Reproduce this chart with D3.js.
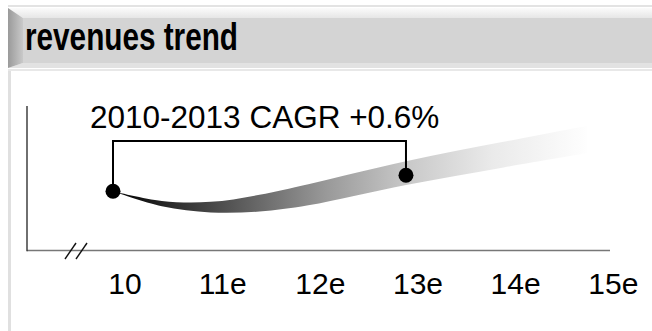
<!DOCTYPE html>
<html>
<head>
<meta charset="utf-8">
<script src="https://cdn.jsdelivr.net/npm/d3@7"></script>
<style>
  html, body { margin: 0; padding: 0; background: #fff; }
  svg { display: block; }
  text { font-family: "Liberation Sans", Arial, Helvetica, sans-serif; }
</style>
</head>
<body>
<svg id="chart" width="652" height="331"></svg>
<script>
// Revenue index (2010 = 100); band shows the trend corridor, forecast years marked "e"
const bandYears  = [2010, 2010.5, 2011, 2011.5, 2012, 2013, 2014, 2014.85];
const bandUpper  = [100, 98.9, 98.8, 99.6, 100.8, 103.4, 105.6, 107.4];
const bandLower  = [100, 98.3, 97.6, 97.7, 98.4, 100.7, 102.7, 104.3];

const markerYears  = [2010, 2013];
const markerValues = [100, 101.81];

const tickYears  = [2010, 2011, 2012, 2013, 2014, 2015];
const tickLabels = ["10", "11e", "12e", "13e", "14e", "15e"];

const title = "revenues trend";

const svg = d3.select("#chart");
const W = 652, H = 331;

// ---- header panel ----
const defs = svg.append("defs");
const bevel = defs.append("linearGradient").attr("id", "leftBevel")
  .attr("x1", "0%").attr("x2", "100%").attr("y1", "0%").attr("y2", "0%");
bevel.append("stop").attr("offset", "0%").attr("stop-color", "#9a9a9a");
bevel.append("stop").attr("offset", "100%").attr("stop-color", "#c9c9c9");

const topBevel = defs.append("linearGradient").attr("id", "topBevel")
  .attr("x1", "0%").attr("x2", "0%").attr("y1", "0%").attr("y2", "100%");
topBevel.append("stop").attr("offset", "0%").attr("stop-color", "#fbfbfb");
topBevel.append("stop").attr("offset", "100%").attr("stop-color", "#e6e6e6");

svg.append("rect").attr("x", 8).attr("y", 5).attr("width", W - 8).attr("height", 2).attr("fill", "#e3e3e3");
svg.append("polygon").attr("points", `8,8 ${W},8 ${W},18 23,18`).attr("fill", "url(#topBevel)");
svg.append("rect").attr("x", 23).attr("y", 18).attr("width", W - 23).attr("height", 45).attr("fill", "#d4d4d4");
svg.append("polygon").attr("points", `23,63 ${W},63 ${W},68 8,68`).attr("fill", "#e2e2e2");
svg.append("polygon").attr("points", `8,8 23,18 23,63 8,68`).attr("fill", "url(#leftBevel)");
svg.append("rect").attr("x", 8).attr("y", 69).attr("width", W - 8).attr("height", 2).attr("fill", "#e8e8e8");
svg.append("rect").attr("x", 8).attr("y", 71).attr("width", 3).attr("height", H - 71).attr("fill", "#e0e0e0");

svg.append("text")
  .attr("x", 25).attr("y", 50)
  .attr("font-size", 38).attr("font-weight", "bold")
  .attr("textLength", 213).attr("lengthAdjust", "spacingAndGlyphs")
  .attr("fill", "#000")
  .text(title);

// ---- scales ----
const x = d3.scaleLinear().domain([2010, 2015]).range([113, 601.3]);
const y = d3.scaleLinear().domain([93, 110]).range([253, 103]);

// ---- axes frame ----
const axisLeft = 27, axisBottom = 250.5, axisTop = 106, axisRight = 610;
svg.append("line")
  .attr("x1", axisLeft).attr("x2", axisRight)
  .attr("y1", axisBottom).attr("y2", axisBottom)
  .attr("stroke", "#777").attr("stroke-width", 1.6);
svg.append("line")
  .attr("x1", axisLeft).attr("x2", axisLeft)
  .attr("y1", axisTop).attr("y2", axisBottom + 0.8)
  .attr("stroke", "#333").attr("stroke-width", 1.4);

// axis break marks
[0, 11].forEach(off => {
  svg.append("line")
    .attr("x1", 65 + off).attr("y1", 259)
    .attr("x2", 76 + off).attr("y2", 243)
    .attr("stroke", "#111").attr("stroke-width", 1.4);
});

// tick labels
const xAxis = d3.axisBottom(x)
  .tickValues(tickYears)
  .tickSize(0)
  .tickFormat((d, i) => tickLabels[i]);
const gx = svg.append("g").attr("transform", `translate(0,${axisBottom})`).call(xAxis);
gx.select(".domain").remove();
gx.selectAll("text")
  .attr("dx", 11.5).attr("dy", 0).attr("y", 43.5)
  .attr("font-size", 30).attr("font-family", "Liberation Sans, Arial, sans-serif")
  .attr("fill", "#000");

// ---- trend band ----
const grad = defs.append("linearGradient").attr("id", "bandGrad")
  .attr("gradientUnits", "userSpaceOnUse")
  .attr("x1", x(2010)).attr("x2", x(bandYears[bandYears.length - 1]))
  .attr("y1", 0).attr("y2", 0);
[[0, "#000"], [0.12, "#2a2a2a"], [0.25, "#555"], [0.45, "#999"], [0.62, "#c8c8c8"],
 [0.8, "#eaeaea"], [1, "#fefefe"]].forEach(([o, c]) =>
  grad.append("stop").attr("offset", o).attr("stop-color", c));

const bandData = bandYears.map((yr, i) => ({ yr, hi: bandUpper[i], lo: bandLower[i] }));
const area = d3.area()
  .x(d => x(d.yr))
  .y0(d => y(d.lo))
  .y1(d => y(d.hi))
  .curve(d3.curveCatmullRom.alpha(0.5));
svg.append("path").datum(bandData).attr("d", area).attr("fill", "url(#bandGrad)");

// ---- CAGR bracket ----
const bracketY = 141;
const p0 = { x: x(markerYears[0]), y: y(markerValues[0]) };
const p1 = { x: x(markerYears[1]), y: y(markerValues[1]) };
svg.append("path")
  .attr("d", `M${p0.x},${p0.y}V${bracketY}H${p1.x}V${p1.y}`)
  .attr("fill", "none").attr("stroke", "#000").attr("stroke-width", 2);

svg.selectAll("circle.marker")
  .data(markerYears.map((yr, i) => ({ yr, v: markerValues[i] })))
  .join("circle")
  .attr("class", "marker")
  .attr("cx", d => x(d.yr)).attr("cy", d => y(d.v))
  .attr("r", 7.5).attr("fill", "#000");

const span = markerYears[1] - markerYears[0];
const cagr = Math.pow(markerValues[1] / markerValues[0], 1 / span) - 1;
svg.append("text")
  .attr("x", 90).attr("y", 128)
  .attr("font-size", 31.5)
  .attr("fill", "#000")
  .text(`${markerYears[0]}-${markerYears[1]} CAGR ${d3.format("+.1%")(cagr)}`);
</script>
</body>
</html>
